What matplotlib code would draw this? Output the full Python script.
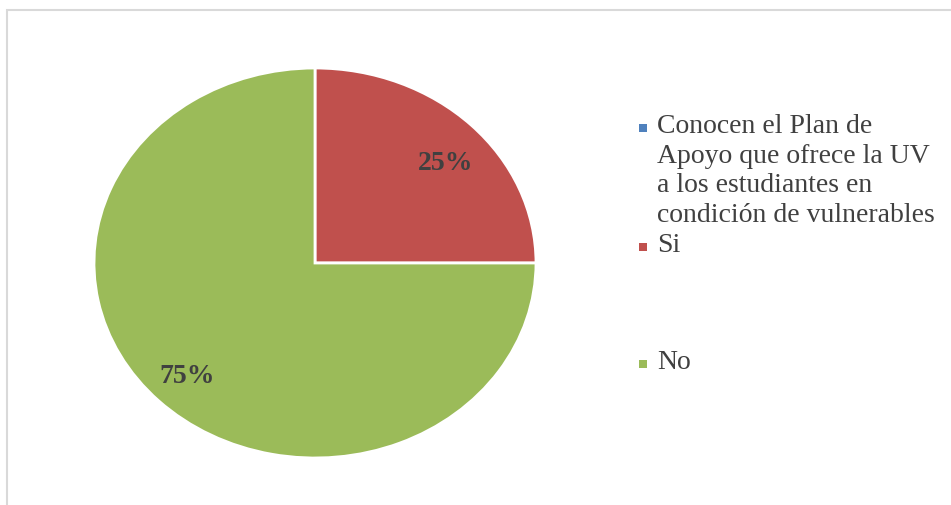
import matplotlib.pyplot as plt
from matplotlib.patches import Rectangle

# ------- Data -------
labels = ['Conocen el Plan de\nApoyo que ofrece la UV\na los estudiantes en\ncondición de vulnerables', 'Si', 'No']
values = [0, 25, 75]
colors = ['#4F81BD', '#C0504D', '#9BBB59']

plt.rcParams['font.family'] = ['Liberation Serif', 'DejaVu Serif']

fig = plt.figure(figsize=(9.51, 5.05), dpi=100)
W, H = 951, 505

# light gray chart border (right/bottom fall off the image)
fig.patches.append(Rectangle((7 / W, -0.05), 1.1, (505 - 10) / H + 0.05,
                             transform=fig.transFigure, fill=False,
                             edgecolor='#d9d9d9', linewidth=1.5))

# pie is an ellipse in the original, so the axes are not square
ax = fig.add_axes([94 / W, (505 - 458) / H, 442 / W, 390 / H])


def pct_label(p):
    return f'{p:.0f}%' if p > 0 else ''


wedges, texts, autotexts = ax.pie(values, colors=colors, startangle=90, counterclock=False,
                                  autopct=pct_label, pctdistance=0.82,
                                  wedgeprops=dict(edgecolor='white', linewidth=2),
                                  textprops=dict(fontsize=20, fontweight='bold', color='#404040'))
# the 25% label sits a bit lower than the slice bisector in the original
x, y = autotexts[1].get_position()
autotexts[1].set_position((x + 0.01, y - 0.07))
ax.set_aspect('auto')
ax.set_xlim(-1, 1)
ax.set_ylim(-1, 1)

# legend drawn by hand to keep the uneven spacing of the original
legend_y = [114, 233, 350]
for lab, col, y in zip(labels, colors, legend_y):
    fig.patches.append(Rectangle((639 / W, 1 - (y + 18) / H), 8 / W, 8 / H,
                                 transform=fig.transFigure, facecolor=col, edgecolor='none'))
    fig.text(657 / W, 1 - y / H, lab, fontsize=20, color='#404040', va='top', ha='left',
             linespacing=1.24)

fig.savefig('out.png', dpi=100)
